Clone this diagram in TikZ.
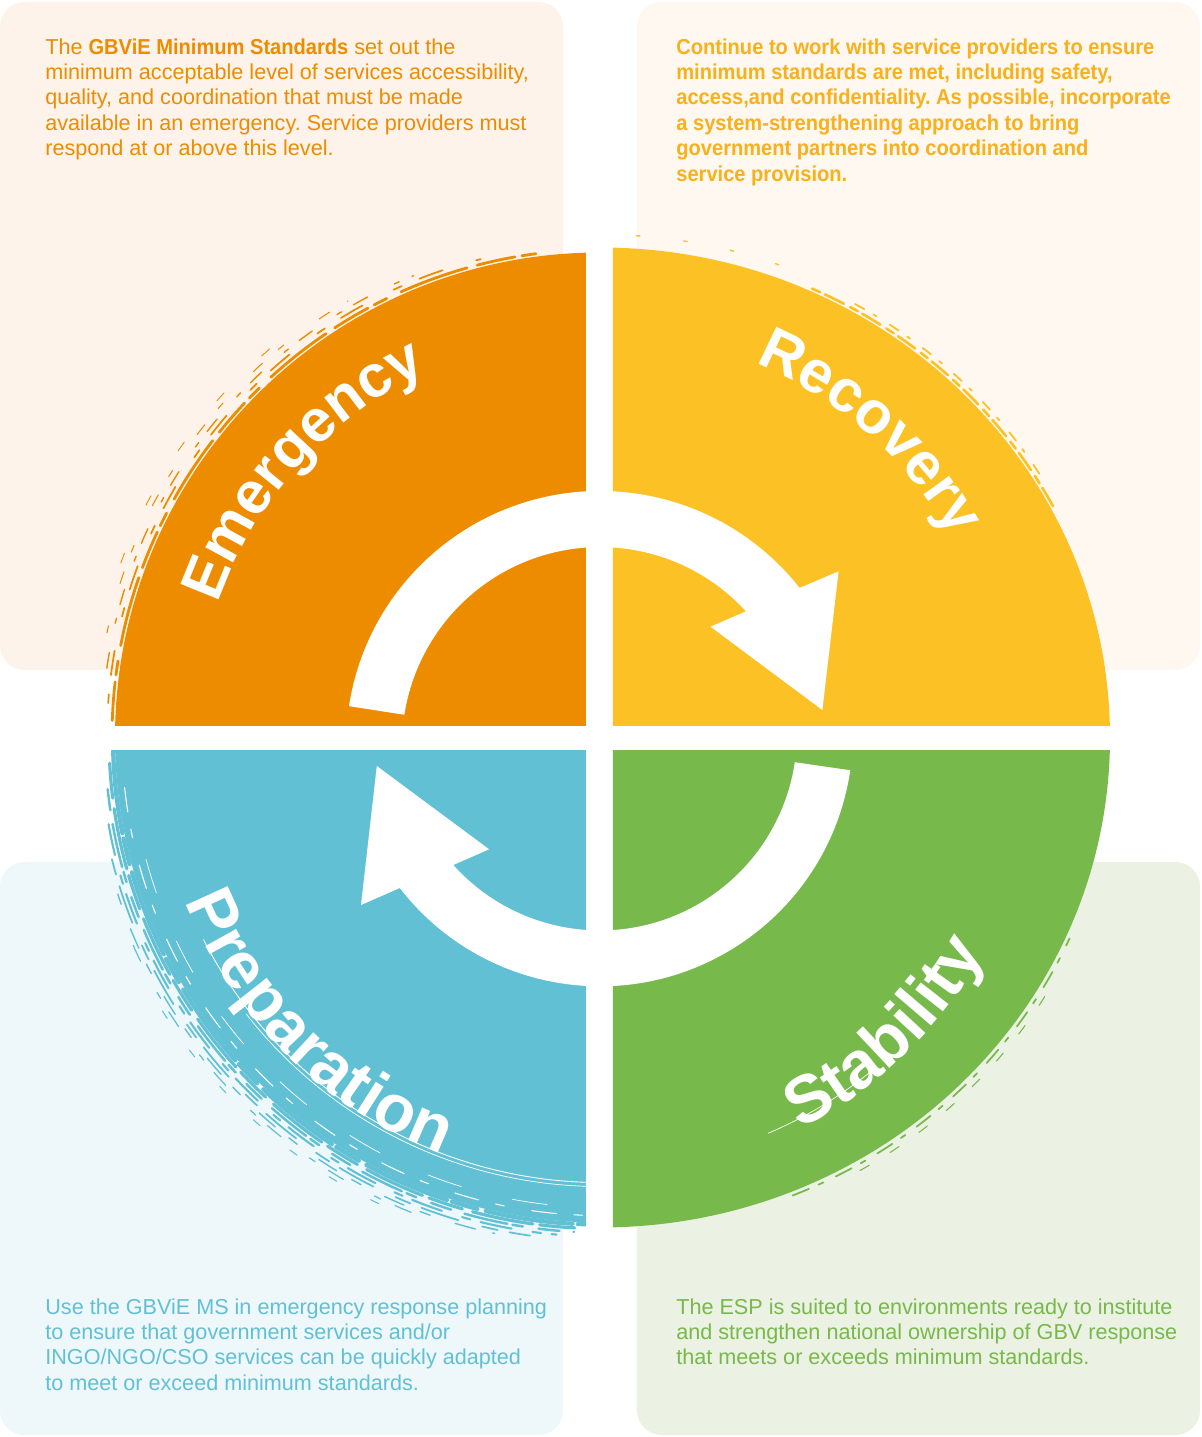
\documentclass[tikz,border=0pt]{standalone}
\usepackage{fontspec}
\setmainfont{Liberation Sans}
\newfontfamily\narrowfont[FakeStretch=0.93]{Liberation Sans}
\usepackage{tikz}
\usetikzlibrary{decorations.text}
\frenchspacing

\definecolor{emergcol}{HTML}{EE8C00}
\definecolor{recovcol}{HTML}{FCC125}
\definecolor{prepcol}{HTML}{62C0D5}
\definecolor{stabcol}{HTML}{77B94A}
\definecolor{recovtxtcol}{HTML}{F8B01D}
\definecolor{emergbg}{HTML}{FDF3EA}
\definecolor{recovbg}{HTML}{FEF8F0}
\definecolor{prepbg}{HTML}{EEF7FA}
\definecolor{stabbg}{HTML}{EBF1E3}

\newcommand{\parafont}{\fontsize{12.3}{14.5}\selectfont}
\newcommand{\strongtext}[1]{{\narrowfont\bfseries #1}}
\newcommand{\labelfont}{\fontsize{34}{34}\selectfont\bfseries\color{white}}
\newcommand{\biglabelfont}{\fontsize{38}{38}\selectfont\bfseries\color{white}}

\begin{document}
\begin{tikzpicture}[x=0.02cm, y=0.02cm,
  infobox/.style={rounded corners=14pt},
  infotext/.style={anchor=north west, inner sep=0pt, align=left, font=\parafont},
  brush/.style={line cap=round}]
\useasboundingbox (-600,-699.5) rectangle (602,737.5);
% background boxes
\fill[emergbg, infobox] (-600,735.5) rectangle (-37,67.5);
\fill[recovbg, infobox] (37,735.5) rectangle (600,67.5);
\fill[prepbg, infobox] (-600,-124.5) rectangle (-37,-697.5);
\fill[stabbg, infobox] (37,-124.5) rectangle (600,-697.5);
% box texts
\node[infotext, text=emergcol] (emergtxt) at (-555,699.5)
  {The \strongtext{GBViE Minimum Standards} set out the\\
   minimum acceptable level of services accessibility,\\
   quality, and coordination that must be made\\
   available in an emergency. Service providers must\\
   respond at or above this level.};
\node[infotext, text=recovtxtcol, font=\parafont\narrowfont\bfseries] (recovtxt) at (76,699.5)
  {Continue to work with service providers to ensure\\
   minimum standards are met, including safety,\\
   access,and confidentiality. As possible, incorporate\\
   a system-strengthening approach to bring\\
   government partners into coordination and\\
   service provision.};
\node[infotext, text=prepcol] (preptxt) at (-555,-560.5)
  {Use the GBViE MS in emergency response planning\\
   to ensure that government services and/or\\
   INGO/NGO/CSO services can be quickly adapted\\
   to meet or exceed minimum standards.};
\node[infotext, text=stabcol] (stabtxt) at (76,-560.5)
  {The ESP is suited to environments ready to institute\\
   and strengthen national ownership of GBV response\\
   that meets or exceeds minimum standards.};
% quadrant emergency
\begin{scope}
\clip (-600,737.5) rectangle (-14,12.5);
\fill[emergcol] (0,0) circle[radius=485];
\draw[brush, emergcol, line width=1.6pt, dash pattern=on 22pt off 4pt on 8pt off 9pt on 40pt off 6pt] (178:488) arc[start angle=178, end angle=96, radius=488];
\draw[brush, emergcol, line width=1pt, dash pattern=on 5pt off 11pt on 14pt off 20pt] (176:493) arc[start angle=176, end angle=104, radius=493];
\draw[brush, emergcol, line width=0.8pt, dash pattern=on 9pt off 17pt on 3pt off 8pt] (172:498) arc[start angle=172, end angle=112, radius=498];
\draw[brush, emergcol, line width=0.6pt, dash pattern=on 4pt off 25pt on 7pt off 12pt] (168:504) arc[start angle=168, end angle=120, radius=504];
\draw[brush, emergcol, line width=0.5pt, dash pattern=on 6pt off 30pt] (160:510) arc[start angle=160, end angle=128, radius=510];
\end{scope}
% quadrant recovery
\begin{scope}
\clip (13,737.5) rectangle (602,12.5);
\fill[recovcol] (0,0) ellipse[x radius=510, y radius=490];
\draw[brush, recovcol, line width=1.5pt, dash pattern=on 12pt off 3pt on 5pt off 4pt] (28:513 and 493) arc[start angle=28, end angle=66, x radius=513, y radius=493];
\draw[brush, recovcol, line width=1pt, dash pattern=on 6pt off 9pt on 2pt off 6pt] (32:518 and 498) arc[start angle=32, end angle=62, x radius=518, y radius=498];
\draw[brush, recovcol, line width=0.8pt, dash pattern=on 2pt off 25pt] (70:523 and 503) arc[start angle=70, end angle=88, x radius=523, y radius=503];
\end{scope}
% quadrant preparation
\begin{scope}
\clip (-600,-12.5) rectangle (-14,-699.5);
\fill[prepcol] (0,0) circle[radius=485];
\draw[brush, prepcol, line width=2.4pt, dash pattern=on 50pt off 3pt on 15pt off 5pt] (181:487) arc[start angle=181, end angle=269, radius=487];
\draw[brush, prepcol, line width=1.8pt, dash pattern=on 20pt off 6pt on 35pt off 4pt] (183:491) arc[start angle=183, end angle=268, radius=491];
\draw[brush, prepcol, line width=1.4pt, dash pattern=on 12pt off 8pt on 25pt off 3pt on 6pt off 9pt] (186:495) arc[start angle=186, end angle=267, radius=495];
\draw[brush, prepcol, line width=1.2pt, dash pattern=on 18pt off 12pt on 5pt off 6pt] (190:499) arc[start angle=190, end angle=265, radius=499];
\draw[brush, prepcol, line width=1pt, dash pattern=on 9pt off 7pt on 22pt off 14pt] (194:503) arc[start angle=194, end angle=262, radius=503];
\draw[brush, prepcol, line width=0.8pt, dash pattern=on 6pt off 15pt on 12pt off 10pt] (198:507) arc[start angle=198, end angle=258, radius=507];
\draw[brush, prepcol, line width=0.7pt, dash pattern=on 10pt off 20pt on 4pt off 9pt] (204:511) arc[start angle=204, end angle=252, radius=511];
\draw[brush, prepcol, line width=0.6pt, dash pattern=on 5pt off 22pt] (212:516) arc[start angle=212, end angle=245, radius=516];
\draw[white, line width=0.5pt] (207:445) arc[start angle=207, end angle=272, radius=445];
\draw[white, line width=0.4pt] (218:449) arc[start angle=218, end angle=272, radius=449];
\draw[brush, white, line width=0.6pt, dash pattern=on 14pt off 10pt on 5pt off 16pt] (186:478) arc[start angle=186, end angle=270, radius=478];
\draw[brush, white, line width=0.4pt, dash pattern=on 20pt off 30pt] (195:470) arc[start angle=195, end angle=265, radius=470];
\end{scope}
% quadrant stability
\begin{scope}
\clip (13,-12.5) rectangle (602,-699.5);
\fill[stabcol] (0,0) ellipse[x radius=510, y radius=490];
\draw[brush, stabcol, line width=1pt, dash pattern=on 10pt off 6pt on 3pt off 8pt] (292:514 and 494) arc[start angle=292, end angle=336, x radius=514, y radius=494];
\draw[brush, stabcol, line width=0.6pt, dash pattern=on 6pt off 14pt] (300:520 and 500) arc[start angle=300, end angle=330, x radius=520, y radius=500];
\draw[white, line width=0.4pt] (293:430) arc[start angle=293, end angle=309, radius=430];
\end{scope}
% cycle arrows
\fill[white] (0,-7.5) ++(171.2:254) arc[start angle=171.2, end angle=38.2, radius=254]
  -- (238.6,166.2) -- (222.4,27.5) -- (110.5,110.8) -- (146,126.2)
  arc[start angle=42.5, end angle=171.2, radius=198] -- cycle;
\fill[white] (0,4.2) ++(-8.4:253) arc[start angle=-8.4, end angle=-142.3, radius=253]
  -- (-239,-167.5) -- (-223.2,-28.5) -- (-110.9,-111.8) -- (-146.7,-127.5)
  arc[start angle=-138.1, end angle=-8.4, radius=197] -- cycle;
% phase labels
\path[decorate, decoration={text along path, text align=center, text={|\labelfont|Emergency}}]
  (183:405) arc[start angle=183, end angle=93, radius=405];
\path[decorate, decoration={text along path, text align=center, text={|\labelfont|Recovery}}]
  (93.5:405) arc[start angle=93.5, end angle=3.5, radius=405];
\path[decorate, decoration={text along path, text align=center, text={|\biglabelfont|Preparation}}]
  (180.4:446) arc[start angle=180.4, end angle=270.4, radius=446];
\path[decorate, decoration={text along path, text align=center, text={|\biglabelfont|Stability}}]
  (269:440) arc[start angle=269, end angle=359, radius=440];
\end{tikzpicture}
\end{document}
